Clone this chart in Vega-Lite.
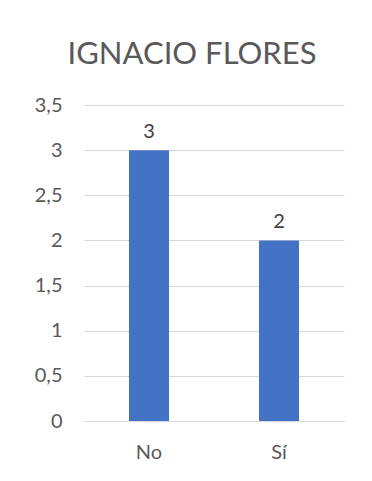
{
  "$schema": "https://vega.github.io/schema/vega-lite/v6.json",
  "autosize": {"type": "none"},
  "padding": {"left": 84, "top": 105, "right": 28, "bottom": 60},
  "width": 260,
  "height": 316,
  "background": "white",
  "title": {
    "text": "IGNACIO FLORES",
    "font": "Lato",
    "fontSize": 31,
    "fontWeight": "normal",
    "color": "#595959",
    "anchor": "middle",
    "baseline": "alphabetic",
    "dx": -22,
    "offset": 0
  },
  "data": {"values": [
    {"respuesta": "No", "cantidad": 3},
    {"respuesta": "Sí", "cantidad": 2}
  ]},
  "encoding": {
    "x": {
      "field": "respuesta", "type": "nominal", "sort": null,
      "scale": {"paddingInner": 0.692, "paddingOuter": 0.346},
      "axis": {"title": null, "labelAngle": 0, "ticks": false, "domainColor": "#d9d9d9", "domainWidth": 1,
               "labelFont": "Lato", "labelFontSize": 20, "labelColor": "#595959", "labelPadding": 21}
    },
    "y": {
      "field": "cantidad", "type": "quantitative",
      "scale": {"domain": [0, 3.5], "nice": false},
      "axis": {"title": null, "values": [0, 0.5, 1, 1.5, 2, 2.5, 3, 3.5], "domain": false, "ticks": false,
               "gridColor": "#d9d9d9", "labelFont": "Lato", "labelFontSize": 20, "labelColor": "#595959",
               "labelPadding": 22, "labelExpr": "replace(toString(datum.value), '.', ',')"}
    }
  },
  "layer": [
    {"mark": {"type": "bar", "color": "#4472c4"}},
    {"mark": {"type": "text", "baseline": "bottom", "dy": -8, "font": "Lato", "fontSize": 20, "color": "#404040"},
     "encoding": {"text": {"field": "cantidad", "type": "quantitative"}}}
  ],
  "config": {"view": {"stroke": null}}
}
